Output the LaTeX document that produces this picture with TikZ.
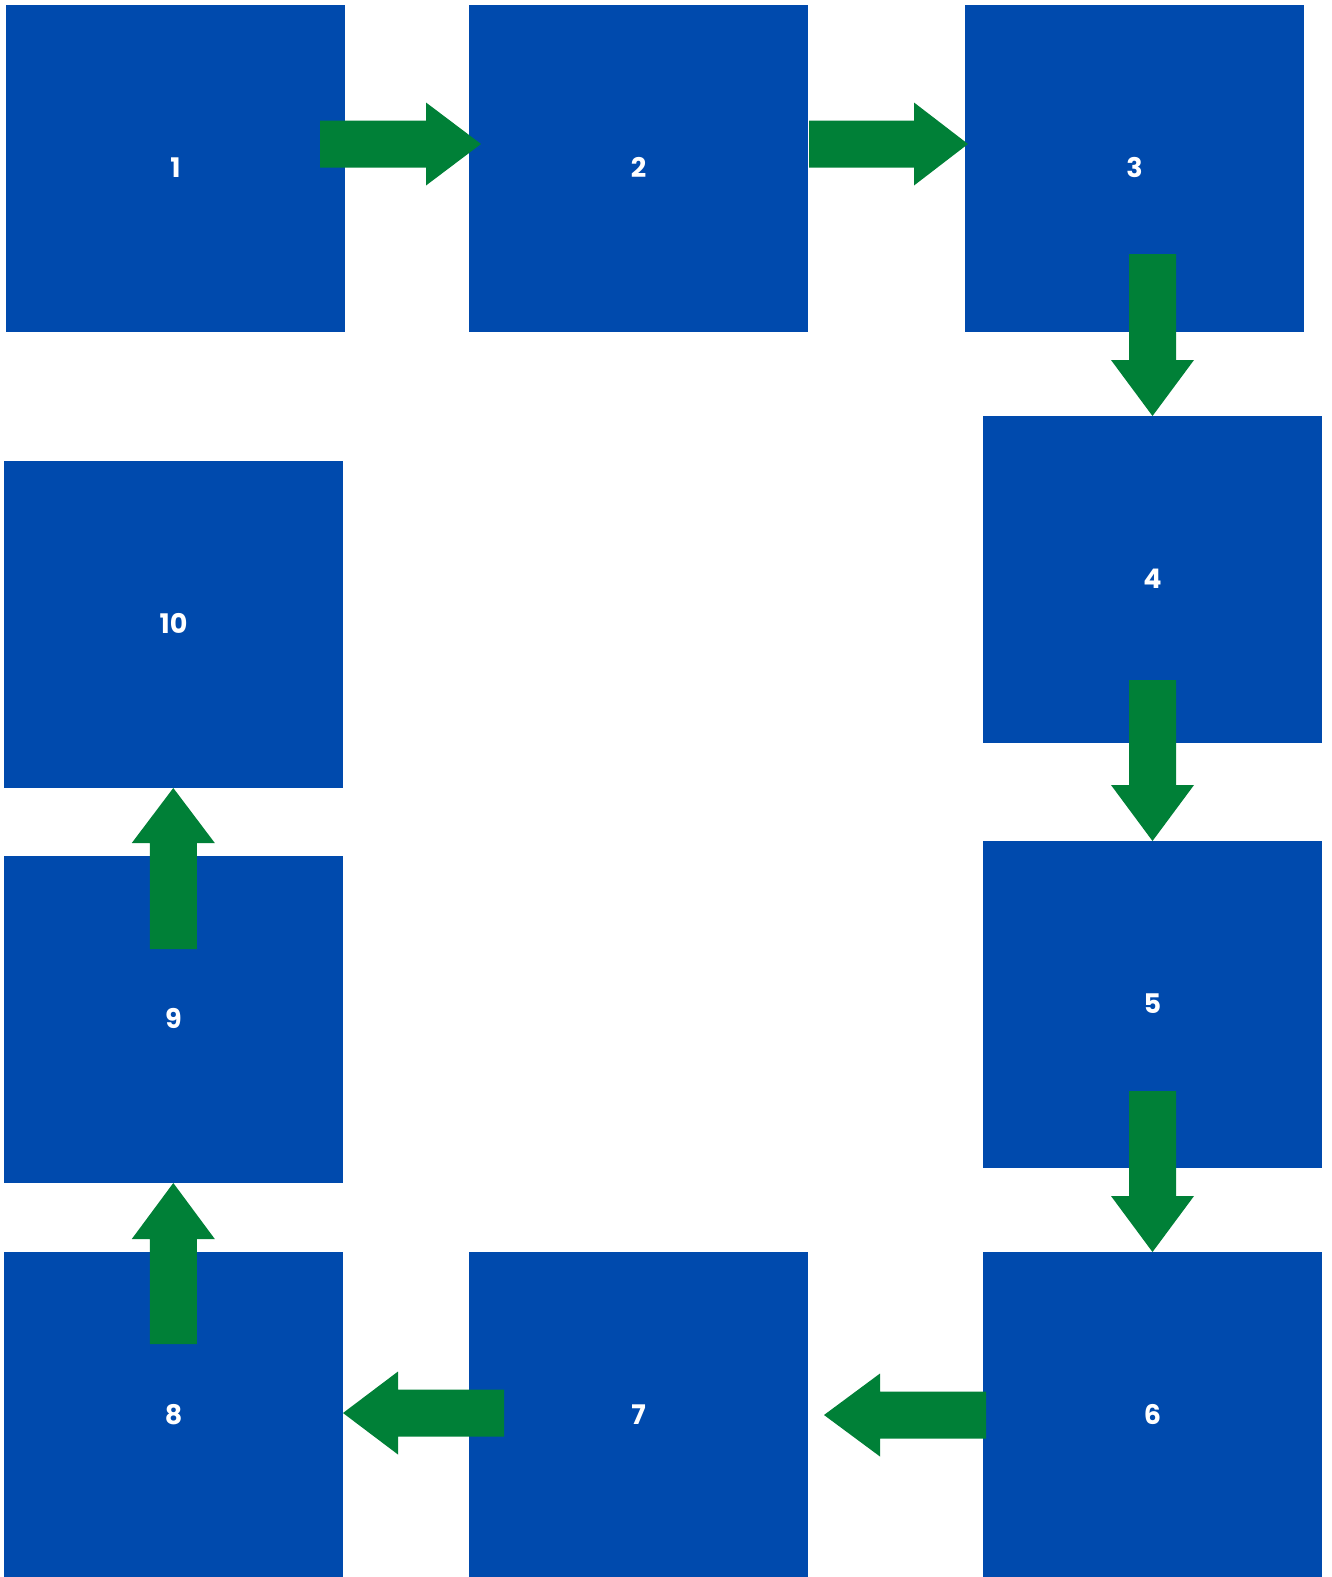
\documentclass[tikz,border=0pt]{standalone}
\usepackage{fontspec}
\setmainfont{Poppins}
\definecolor{boxblue}{RGB}{0,74,173}
\definecolor{arrowgreen}{RGB}{0,128,55}
\newcommand\harrow[4]{% y centre, x start, x head base, x tip
  \fill[arrowgreen] (#2,#1-23.5) -- (#3,#1-23.5) -- (#3,#1-41.5) -- (#4,#1) -- (#3,#1+41.5) -- (#3,#1+23.5) -- (#2,#1+23.5) -- cycle;}
\newcommand\varrow[4]{% x centre, y start, y head base, y tip
  \fill[arrowgreen] (#1-23.5,#2) -- (#1-23.5,#3) -- (#1-41.5,#3) -- (#1,#4) -- (#1+41.5,#3) -- (#1+23.5,#3) -- (#1+23.5,#2) -- cycle;}
\begin{document}
\begin{tikzpicture}[x=1pt,y=-1pt,
  box/.style={fill=boxblue, draw=none, minimum width=339pt, minimum height=327pt, inner sep=0pt,
    text depth=2pt, text=white, font=\fontsize{27}{30}\selectfont\bfseries}]
\useasboundingbox[fill=white] (0,0) rectangle (1332,1577);
\node[box] (b1) at (175.5,168.5) {1};
\node[box] (b2) at (638.5,168.5) {2};
\node[box] (b3) at (1134.5,168) {3};
\node[box] (b4) at (1152.5,579.5) {4};
\node[box] (b5) at (1152.5,1004.5) {5};
\node[box] (b6) at (1152.5,1415.5) {6};
\node[box] (b7) at (638.5,1415.5) {7};
\node[box] (b8) at (173.5,1415.5) {8};
\node[box] (b9) at (173.5,1019.5) {9};
\node[box] (b10) at (173.5,624.5) {10};
% arrows
\harrow{144}{320}{426}{481}
\harrow{144}{809}{914}{968}
\varrow{1152.5}{254}{360}{416}
\varrow{1152.5}{680}{785}{841}
\varrow{1152.5}{1091}{1196}{1252}
\harrow{1415}{986}{880}{824}
\harrow{1413}{504}{398}{343}
\varrow{173.3}{1344}{1239}{1183}
\varrow{173.3}{949}{843}{788}
\end{tikzpicture}
\end{document}
